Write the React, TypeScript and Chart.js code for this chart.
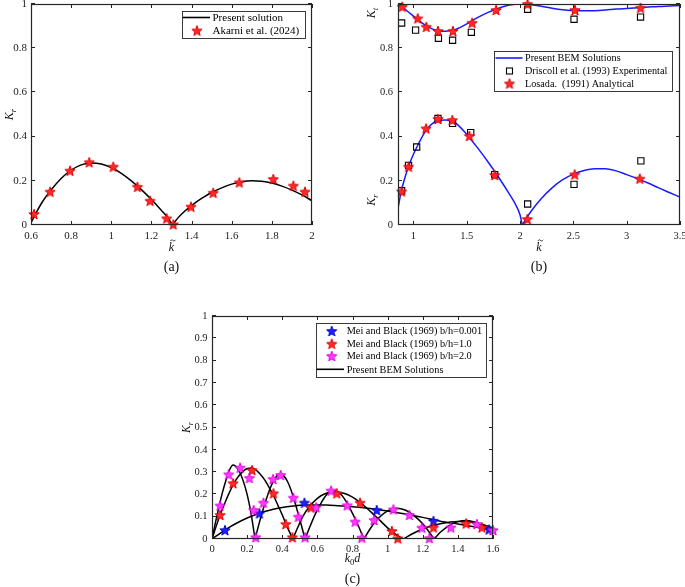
import React, { useEffect, useRef } from 'react';
import { Chart, registerables } from 'chart.js';
Chart.register(...registerables);

const FONT = "'Liberation Serif', 'Times New Roman', Times, serif";

// ---------------- Panel (a) ----------------
const aTicksX = [0.6, 0.8, 1, 1.2, 1.4, 1.6, 1.8, 2];
const aTicksY = [0, 0.2, 0.4, 0.6, 0.8, 1];
const aCurveX = [0.6, 0.62, 0.65, 0.7, 0.75, 0.8, 0.85, 0.9, 0.95, 1.0, 1.05, 1.1, 1.15, 1.2, 1.25, 1.28, 1.305, 1.33, 1.36, 1.4, 1.45, 1.5, 1.55, 1.6, 1.65, 1.7, 1.75, 1.8, 1.85, 1.9, 1.95, 2.0];
const aCurveY = [0.01, 0.045, 0.095, 0.158, 0.21, 0.248, 0.272, 0.281, 0.276, 0.26, 0.234, 0.2, 0.16, 0.115, 0.066, 0.035, 0, 0.03, 0.058, 0.088, 0.12, 0.147, 0.168, 0.185, 0.196, 0.2, 0.198, 0.19, 0.176, 0.158, 0.136, 0.11];
const aStarX = [0.615, 0.695, 0.794, 0.89, 1.01, 1.13, 1.193, 1.276, 1.309, 1.397, 1.508, 1.638, 1.807, 1.907, 1.965];
const aStarY = [0.05, 0.151, 0.246, 0.284, 0.264, 0.173, 0.11, 0.03, 0.003, 0.083, 0.146, 0.193, 0.208, 0.178, 0.151];

// ---------------- Panel (b) ----------------
const bTicksX = [1, 1.5, 2, 2.5, 3, 3.5];
const bTicksY = [0, 0.2, 0.4, 0.6, 0.8, 1];
const bKtX = [0.855, 0.9, 0.95, 1.0, 1.05, 1.1, 1.15, 1.2, 1.25, 1.3, 1.35, 1.4, 1.5, 1.6, 1.7, 1.8, 1.9, 2.0, 2.1, 2.2, 2.3, 2.4, 2.5, 2.6, 2.7, 2.8, 2.9, 3.0, 3.1, 3.2, 3.3, 3.4, 3.5];
const bKtY = [1.0, 0.985, 0.965, 0.945, 0.925, 0.908, 0.893, 0.883, 0.878, 0.877, 0.88, 0.886, 0.91, 0.938, 0.962, 0.981, 0.995, 1.0, 0.997, 0.99, 0.981, 0.974, 0.97, 0.969, 0.97, 0.973, 0.977, 0.98, 0.983, 0.986, 0.989, 0.991, 0.993];
const bKrX = [0.855, 0.88, 0.9, 0.95, 1.0, 1.05, 1.1, 1.15, 1.2, 1.25, 1.3, 1.35, 1.4, 1.5, 1.6, 1.7, 1.8, 1.9, 1.95, 2.0, 2.02, 2.1, 2.2, 2.3, 2.4, 2.5, 2.6, 2.7, 2.8, 2.9, 3.0, 3.1, 3.2, 3.3, 3.4, 3.5];
const bKrY = [0.075, 0.14, 0.18, 0.26, 0.32, 0.37, 0.415, 0.447, 0.466, 0.474, 0.475, 0.471, 0.46, 0.41, 0.35, 0.285, 0.215, 0.14, 0.1, 0.045, 0, 0.06, 0.12, 0.168, 0.205, 0.23, 0.247, 0.255, 0.255, 0.245, 0.228, 0.21, 0.19, 0.168, 0.147, 0.126];
const bLosadaKtX = [0.895, 1.04, 1.12, 1.23, 1.37, 1.55, 1.775, 2.07, 2.515, 3.13];
const bLosadaKtY = [0.988, 0.935, 0.897, 0.878, 0.878, 0.915, 0.973, 1.0, 0.973, 0.983];
const bLosadaKrX = [0.889, 0.954, 1.118, 1.23, 1.364, 1.525, 1.762, 2.068, 2.512, 3.123];
const bLosadaKrY = [0.152, 0.264, 0.437, 0.48, 0.475, 0.403, 0.226, 0.027, 0.229, 0.21];
const bDriscollKtX = [0.889, 1.02, 1.234, 1.367, 1.543, 2.071, 2.506, 3.13];
const bDriscollKtY = [0.914, 0.882, 0.845, 0.836, 0.872, 0.976, 0.931, 0.941];
const bDriscollKrX = [0.889, 0.954, 1.03, 1.23, 1.367, 1.537, 1.762, 2.071, 2.506, 3.133];
const bDriscollKrY = [0.155, 0.27, 0.353, 0.482, 0.46, 0.418, 0.228, 0.095, 0.184, 0.29];

// ---------------- Panel (c) ----------------
const cTicksX = [0, 0.2, 0.4, 0.6, 0.8, 1, 1.2, 1.4, 1.6];
const cTicksY = [0, 0.1, 0.2, 0.3, 0.4, 0.5, 0.6, 0.7, 0.8, 0.9, 1];
const cCurve0001X = [0, 0.05, 0.1, 0.15, 0.2, 0.25, 0.3, 0.35, 0.4, 0.45, 0.5, 0.55, 0.6, 0.65, 0.7, 0.8, 0.9, 1.0, 1.1, 1.2, 1.3, 1.4, 1.5, 1.6];
const cCurve0001Y = [0, 0.028, 0.053, 0.075, 0.094, 0.11, 0.123, 0.133, 0.141, 0.147, 0.151, 0.153, 0.153, 0.152, 0.15, 0.145, 0.137, 0.126, 0.112, 0.097, 0.08, 0.067, 0.054, 0.04];
const cCurve1X = [0, 0.025, 0.05, 0.075, 0.1, 0.125, 0.15, 0.175, 0.2, 0.225, 0.25, 0.275, 0.3, 0.325, 0.35, 0.375, 0.4, 0.425, 0.46, 0.49, 0.52, 0.55, 0.6, 0.65, 0.7, 0.75, 0.8, 0.85, 0.9, 0.95, 1.0, 1.05, 1.09, 1.15, 1.2, 1.25, 1.3, 1.35, 1.4, 1.45, 1.5, 1.55, 1.6];
const cCurve1Y = [0, 0.06, 0.115, 0.165, 0.21, 0.25, 0.28, 0.302, 0.316, 0.318, 0.31, 0.29, 0.265, 0.232, 0.195, 0.152, 0.108, 0.06, 0, 0.055, 0.105, 0.14, 0.182, 0.205, 0.21, 0.205, 0.188, 0.16, 0.125, 0.088, 0.05, 0.018, 0, 0.027, 0.045, 0.058, 0.068, 0.075, 0.079, 0.079, 0.073, 0.063, 0.05];
const cCurve2X = [0, 0.02, 0.04, 0.06, 0.08, 0.1, 0.12, 0.14, 0.16, 0.18, 0.2, 0.22, 0.245, 0.265, 0.29, 0.31, 0.33, 0.35, 0.37, 0.39, 0.41, 0.43, 0.45, 0.47, 0.49, 0.51, 0.53, 0.56, 0.59, 0.62, 0.65, 0.68, 0.71, 0.74, 0.77, 0.8, 0.83, 0.865, 0.9, 0.95, 1.0, 1.05, 1.1, 1.15, 1.2, 1.265, 1.3, 1.35, 1.4, 1.45, 1.5, 1.55, 1.6];
const cCurve2Y = [0, 0.075, 0.145, 0.21, 0.265, 0.31, 0.332, 0.322, 0.296, 0.255, 0.2, 0.125, 0, 0.06, 0.13, 0.18, 0.225, 0.26, 0.283, 0.29, 0.282, 0.258, 0.22, 0.17, 0.115, 0.058, 0, 0.06, 0.115, 0.16, 0.196, 0.217, 0.214, 0.195, 0.16, 0.115, 0.065, 0, 0.045, 0.095, 0.126, 0.138, 0.13, 0.105, 0.068, 0, 0.03, 0.06, 0.078, 0.083, 0.075, 0.058, 0.035];
const cBlueX = [0.074, 0.27, 0.526, 0.938, 1.261, 1.578];
const cBlueY = [0.04, 0.115, 0.163, 0.13, 0.081, 0.043];
const cRedX = [0.046, 0.12, 0.228, 0.35, 0.42, 0.458, 0.564, 0.71, 0.843, 1.024, 1.058, 1.261, 1.447, 1.537];
const cRedY = [0.108, 0.25, 0.309, 0.205, 0.067, 0.008, 0.142, 0.205, 0.163, 0.036, 0.003, 0.052, 0.07, 0.052];
const cMagX = [0.046, 0.095, 0.16, 0.213, 0.237, 0.249, 0.293, 0.348, 0.391, 0.463, 0.492, 0.53, 0.593, 0.678, 0.77, 0.815, 0.853, 0.923, 1.033, 1.124, 1.195, 1.238, 1.36, 1.508, 1.6];
const cMagY = [0.15, 0.29, 0.32, 0.274, 0.13, 0.008, 0.163, 0.269, 0.287, 0.185, 0.1, 0.008, 0.142, 0.217, 0.151, 0.078, 0.006, 0.085, 0.133, 0.108, 0.051, 0.004, 0.052, 0.067, 0.04];

// ---------------- helpers ----------------
const pts = (xs: number[], ys: number[]) => xs.map((x, i) => ({ x, y: ys[i] }));

function makeStar(fill: string, stroke: string, R = 5.4) {
  const size = Math.ceil(R * 2 + 3);
  const c = document.createElement('canvas');
  c.width = size;
  c.height = size;
  const ctx = c.getContext('2d')!;
  const cx = size / 2, cy = size / 2 + 0.6;
  const r = R * 0.42;
  ctx.beginPath();
  for (let i = 0; i < 10; i++) {
    const ang = -Math.PI / 2 + (i * Math.PI) / 5;
    const rad = i % 2 === 0 ? R : r;
    const px = cx + rad * Math.cos(ang), py = cy + rad * Math.sin(ang);
    if (i === 0) ctx.moveTo(px, py); else ctx.lineTo(px, py);
  }
  ctx.closePath();
  ctx.fillStyle = fill;
  ctx.fill();
  ctx.lineWidth = 1;
  ctx.strokeStyle = stroke;
  ctx.stroke();
  return c;
}

function curveSets(xs: number[], ys: number[], color: string, width: number) {
  const segs: { x: number; y: number }[][] = [];
  let cur: { x: number; y: number }[] = [];
  xs.forEach((x, i) => {
    cur.push({ x, y: ys[i] });
    if (ys[i] === 0 && i > 0 && i < xs.length - 1) {
      segs.push(cur);
      cur = [{ x, y: ys[i] }];
    }
  });
  segs.push(cur);
  return segs.map((data) => ({
    data,
    showLine: true,
    borderColor: color,
    borderWidth: width,
    pointRadius: 0,
    cubicInterpolationMode: 'monotone',
    order: 10,
  }));
}

function starSet(xs: number[], ys: number[], img: HTMLCanvasElement, order: number) {
  return { data: pts(xs, ys), pointStyle: img, pointRadius: 5, order, clip: false };
}

type Seg = { t: string; italic?: boolean; sub?: boolean; tilde?: boolean };

function drawRich(ctx: CanvasRenderingContext2D, segs: Seg[], x: number, y: number, size: number, rotate = false) {
  ctx.save();
  ctx.translate(x, y);
  if (rotate) ctx.rotate(-Math.PI / 2);
  const fontFor = (s: Seg) => `${s.italic ? 'italic ' : ''}${s.sub ? size * 0.72 : size}px ${FONT}`;
  let total = 0;
  const widths = segs.map((s) => {
    ctx.font = fontFor(s);
    const w = ctx.measureText(s.t).width;
    total += w;
    return w;
  });
  let cx = -total / 2;
  ctx.textBaseline = 'alphabetic';
  ctx.fillStyle = '#111';
  ctx.strokeStyle = '#111';
  const base = size * 0.33;
  segs.forEach((s, i) => {
    ctx.font = fontFor(s);
    ctx.textAlign = 'left';
    ctx.fillText(s.t, cx, base + (s.sub ? size * 0.25 : 0));
    if (s.tilde) {
      const tx = cx + widths[i] / 2 + size * 0.12;
      const ty = base - size * 0.88;
      const hw = size * 0.22;
      ctx.lineWidth = 0.8;
      ctx.beginPath();
      ctx.moveTo(tx - hw, ty + 0.6);
      ctx.bezierCurveTo(tx - hw * 0.5, ty - 1.4, tx, ty - 0.4, tx, ty);
      ctx.bezierCurveTo(tx, ty + 0.4, tx + hw * 0.5, ty + 1.4, tx + hw, ty - 0.6);
      ctx.stroke();
    }
    cx += widths[i];
  });
  ctx.restore();
}

type LegendItem = { label: string; kind: 'line' | 'img' | 'square'; color?: string; img?: HTMLCanvasElement };
type Legend = { x: number; y: number; w: number; h: number; fs: number; lineX0: number; lineX1: number; symX: number; textX: number; rows: number[]; items: LegendItem[] };
type Title = { segs: Seg[]; x: number; y: number; size: number; rotate?: boolean };
type Panel = {
  key: string; left: number; top: number; width: number; height: number;
  area: { l: number; t: number; r: number; b: number };
  xr: [number, number]; yr: [number, number];
  xTicks: number[]; yTicks: number[];
  fs: number; xLabDy: number; yLabDx: number;
  datasets: any[]; legend: Legend; titles: Title[];
};

function decorPlugin(p: Panel) {
  return {
    id: 'decor_' + p.key,
    afterDatasetsDraw(chart: any) {
      const { ctx, chartArea: a } = chart;
      const xs = chart.scales.x, ys = chart.scales.y;
      ctx.save();
      ctx.strokeStyle = '#262626';
      ctx.lineWidth = 1;
      const TL = 4;
      ctx.beginPath();
      p.xTicks.forEach((v) => {
        const px = Math.round(xs.getPixelForValue(v)) + 0.5;
        ctx.moveTo(px, a.bottom); ctx.lineTo(px, a.bottom - TL);
        ctx.moveTo(px, a.top); ctx.lineTo(px, a.top + TL);
      });
      p.yTicks.forEach((v) => {
        const py = Math.round(ys.getPixelForValue(v)) - 0.5;
        ctx.moveTo(a.left, py); ctx.lineTo(a.left + TL, py);
        ctx.moveTo(a.right, py); ctx.lineTo(a.right - TL, py);
      });
      ctx.stroke();
      ctx.lineWidth = 1.2;
      ctx.strokeRect(a.left + 0.5, a.top + 0.5, a.right - a.left - 1, a.bottom - a.top - 1);
      ctx.fillStyle = '#222';
      ctx.font = `${p.fs}px ${FONT}`;
      ctx.textBaseline = 'middle';
      ctx.textAlign = 'center';
      p.xTicks.forEach((v) => ctx.fillText(String(v), xs.getPixelForValue(v), a.bottom + p.xLabDy));
      ctx.textAlign = 'right';
      p.yTicks.forEach((v) => ctx.fillText(String(v), a.left - p.yLabDx, ys.getPixelForValue(v)));
      const L = p.legend;
      ctx.fillStyle = '#fff';
      ctx.fillRect(L.x, L.y, L.w, L.h);
      ctx.strokeStyle = '#262626';
      ctx.lineWidth = 0.9;
      ctx.strokeRect(L.x + 0.5, L.y + 0.5, L.w, L.h);
      L.items.forEach((it, i) => {
        const ry = L.rows[i];
        if (it.kind === 'line') {
          ctx.strokeStyle = it.color!;
          ctx.lineWidth = 1.6;
          ctx.beginPath();
          ctx.moveTo(L.lineX0, ry); ctx.lineTo(L.lineX1, ry);
          ctx.stroke();
        } else if (it.kind === 'img') {
          const im = it.img!;
          ctx.drawImage(im, L.symX - im.width / 2, ry - im.height / 2);
        } else {
          ctx.strokeStyle = '#000';
          ctx.lineWidth = 1.1;
          ctx.strokeRect(L.symX - 3, ry - 3, 6, 6);
        }
        ctx.fillStyle = '#000';
        ctx.font = `${L.fs}px ${FONT}`;
        ctx.textAlign = 'left';
        ctx.textBaseline = 'middle';
        ctx.fillText(it.label, L.textX, ry + 0.5);
      });
      p.titles.forEach((t) => drawRich(ctx, t.segs, t.x, t.y, t.size, t.rotate));
      ctx.restore();
    },
  };
}

function buildPanels(): Panel[] {
  const red = makeStar('#ff2a2a', '#e00000');
  const blue = makeStar('#2020ff', '#0000c8');
  const mag = makeStar('#ff3cff', '#e000e0');
  const Kr: Seg[] = [{ t: 'K', italic: true }, { t: 'r', italic: true, sub: true }];
  const Kt: Seg[] = [{ t: 'K', italic: true }, { t: 't', italic: true, sub: true }];
  const kt: Seg[] = [{ t: 'k', italic: true, tilde: true }];
  const k0d: Seg[] = [{ t: 'k', italic: true }, { t: '0', sub: true }, { t: 'd', italic: true }];

  const A: Panel = {
    key: 'a', left: 0, top: 0, width: 340, height: 285,
    area: { l: 31, t: 4, r: 312, b: 225 },
    xr: [0.6, 2], yr: [0, 1], xTicks: aTicksX, yTicks: aTicksY,
    fs: 11, xLabDy: 11, yLabDx: 4,
    datasets: [
      ...curveSets(aCurveX, aCurveY, '#000', 1.5),
      starSet(aStarX, aStarY, red, 1),
    ],
    legend: {
      x: 182, y: 11, w: 123, h: 27, fs: 11, lineX0: 183, lineX1: 210, symX: 197, textX: 212.5, rows: [17.5, 30.5],
      items: [
        { label: 'Present solution', kind: 'line', color: '#000' },
        { label: 'Akarni et al. (2024)', kind: 'img', img: red },
      ],
    },
    titles: [
      { segs: Kr, x: 9, y: 114.5, size: 12, rotate: true },
      { segs: kt, x: 171.5, y: 247, size: 12 },
      { segs: [{ t: '(a)' }], x: 171.5, y: 266, size: 14 },
    ],
  };

  const B: Panel = {
    key: 'b', left: 340, top: 0, width: 345, height: 285,
    area: { l: 58, t: 4, r: 340, b: 225 },
    xr: [0.855, 3.5], yr: [0, 1], xTicks: bTicksX, yTicks: bTicksY,
    fs: 10.5, xLabDy: 11, yLabDx: 5,
    datasets: [
      ...curveSets(bKtX, bKtY, '#1a1aff', 1.5),
      ...curveSets(bKrX, bKrY, '#1a1aff', 1.5),
      { data: pts(bDriscollKtX, bDriscollKtY), pointStyle: 'rect', pointRadius: 4.4, borderColor: '#000', borderWidth: 1.1, backgroundColor: 'rgba(0,0,0,0)', order: 3, clip: false },
      { data: pts(bDriscollKrX, bDriscollKrY), pointStyle: 'rect', pointRadius: 4.4, borderColor: '#000', borderWidth: 1.1, backgroundColor: 'rgba(0,0,0,0)', order: 3, clip: false },
      starSet(bLosadaKtX, bLosadaKtY, red, 1),
      starSet(bLosadaKrX, bLosadaKrY, red, 1),
    ],
    legend: {
      x: 154, y: 51, w: 178, h: 40, fs: 10.2, lineX0: 155.5, lineX1: 182.5, symX: 169.5, textX: 185, rows: [58, 71, 83.5],
      items: [
        { label: 'Present BEM Solutions', kind: 'line', color: '#1a1aff' },
        { label: 'Driscoll et al. (1993) Experimental', kind: 'square' },
        { label: 'Losada.  (1991) Analytical', kind: 'img', img: red },
      ],
    },
    titles: [
      { segs: Kt, x: 31, y: 13, size: 12, rotate: true },
      { segs: Kr, x: 31, y: 200, size: 12, rotate: true },
      { segs: kt, x: 199, y: 247, size: 12 },
      { segs: [{ t: '(b)' }], x: 199, y: 266, size: 14 },
    ],
  };

  const C: Panel = {
    key: 'c', left: 150, top: 290, width: 380, height: 297,
    area: { l: 62, t: 26, r: 343, b: 249 },
    xr: [0, 1.6], yr: [0, 1], xTicks: cTicksX, yTicks: cTicksY,
    fs: 10.5, xLabDy: 10, yLabDx: 4.5,
    datasets: [
      ...curveSets(cCurve0001X, cCurve0001Y, '#000', 1.5),
      ...curveSets(cCurve1X, cCurve1Y, '#000', 1.5),
      ...curveSets(cCurve2X, cCurve2Y, '#000', 1.5),
      starSet(cBlueX, cBlueY, blue, 3),
      starSet(cRedX, cRedY, red, 2),
      starSet(cMagX, cMagY, mag, 1),
    ],
    legend: {
      x: 166, y: 33, w: 170, h: 54, fs: 10.3, lineX0: 166.7, lineX1: 194, symX: 181.7, textX: 196.7, rows: [41, 53.7, 66, 79.3],
      items: [
        { label: 'Mei and Black (1969) b/h=0.001', kind: 'img', img: blue },
        { label: 'Mei and Black (1969) b/h=1.0', kind: 'img', img: red },
        { label: 'Mei and Black (1969) b/h=2.0', kind: 'img', img: mag },
        { label: 'Present BEM Solutions', kind: 'line', color: '#000' },
      ],
    },
    titles: [
      { segs: Kr, x: 36, y: 137.5, size: 11.5, rotate: true },
      { segs: k0d, x: 202.5, y: 268, size: 12 },
      { segs: [{ t: '(c)' }], x: 202.5, y: 288.5, size: 14 },
    ],
  };
  return [A, B, C];
}

const PANEL_BOXES = [
  { left: 0, top: 0, width: 340, height: 285 },
  { left: 340, top: 0, width: 345, height: 285 },
  { left: 150, top: 290, width: 380, height: 297 },
];

export default function App() {
  const refs = [useRef<HTMLCanvasElement>(null), useRef<HTMLCanvasElement>(null), useRef<HTMLCanvasElement>(null)];
  useEffect(() => {
    const panels = buildPanels();
    const charts = panels.map((p, i) =>
      new Chart(refs[i].current!, {
        type: 'scatter',
        data: { datasets: p.datasets },
        options: {
          responsive: false,
          maintainAspectRatio: false,
          animation: false,
          events: [],
          layout: {
            autoPadding: false,
            padding: { left: p.area.l, top: p.area.t, right: p.width - p.area.r, bottom: p.height - p.area.b },
          },
          plugins: { legend: { display: false }, tooltip: { enabled: false }, title: { display: false } },
          scales: {
            x: { type: 'linear', display: false, min: p.xr[0], max: p.xr[1] },
            y: { type: 'linear', display: false, min: p.yr[0], max: p.yr[1] },
          },
        } as any,
        plugins: [decorPlugin(p)],
      } as any)
    );
    return () => charts.forEach((c) => c.destroy());
  }, []);
  return (
    <div style={{ position: 'absolute', left: 0, top: 0, width: 685, height: 587, background: '#fff', overflow: 'hidden' }}>
      {PANEL_BOXES.map((b, i) => (
        <canvas
          key={i}
          ref={refs[i]}
          width={b.width}
          height={b.height}
          style={{ position: 'absolute', left: b.left, top: b.top, width: b.width, height: b.height }}
        />
      ))}
    </div>
  );
}
